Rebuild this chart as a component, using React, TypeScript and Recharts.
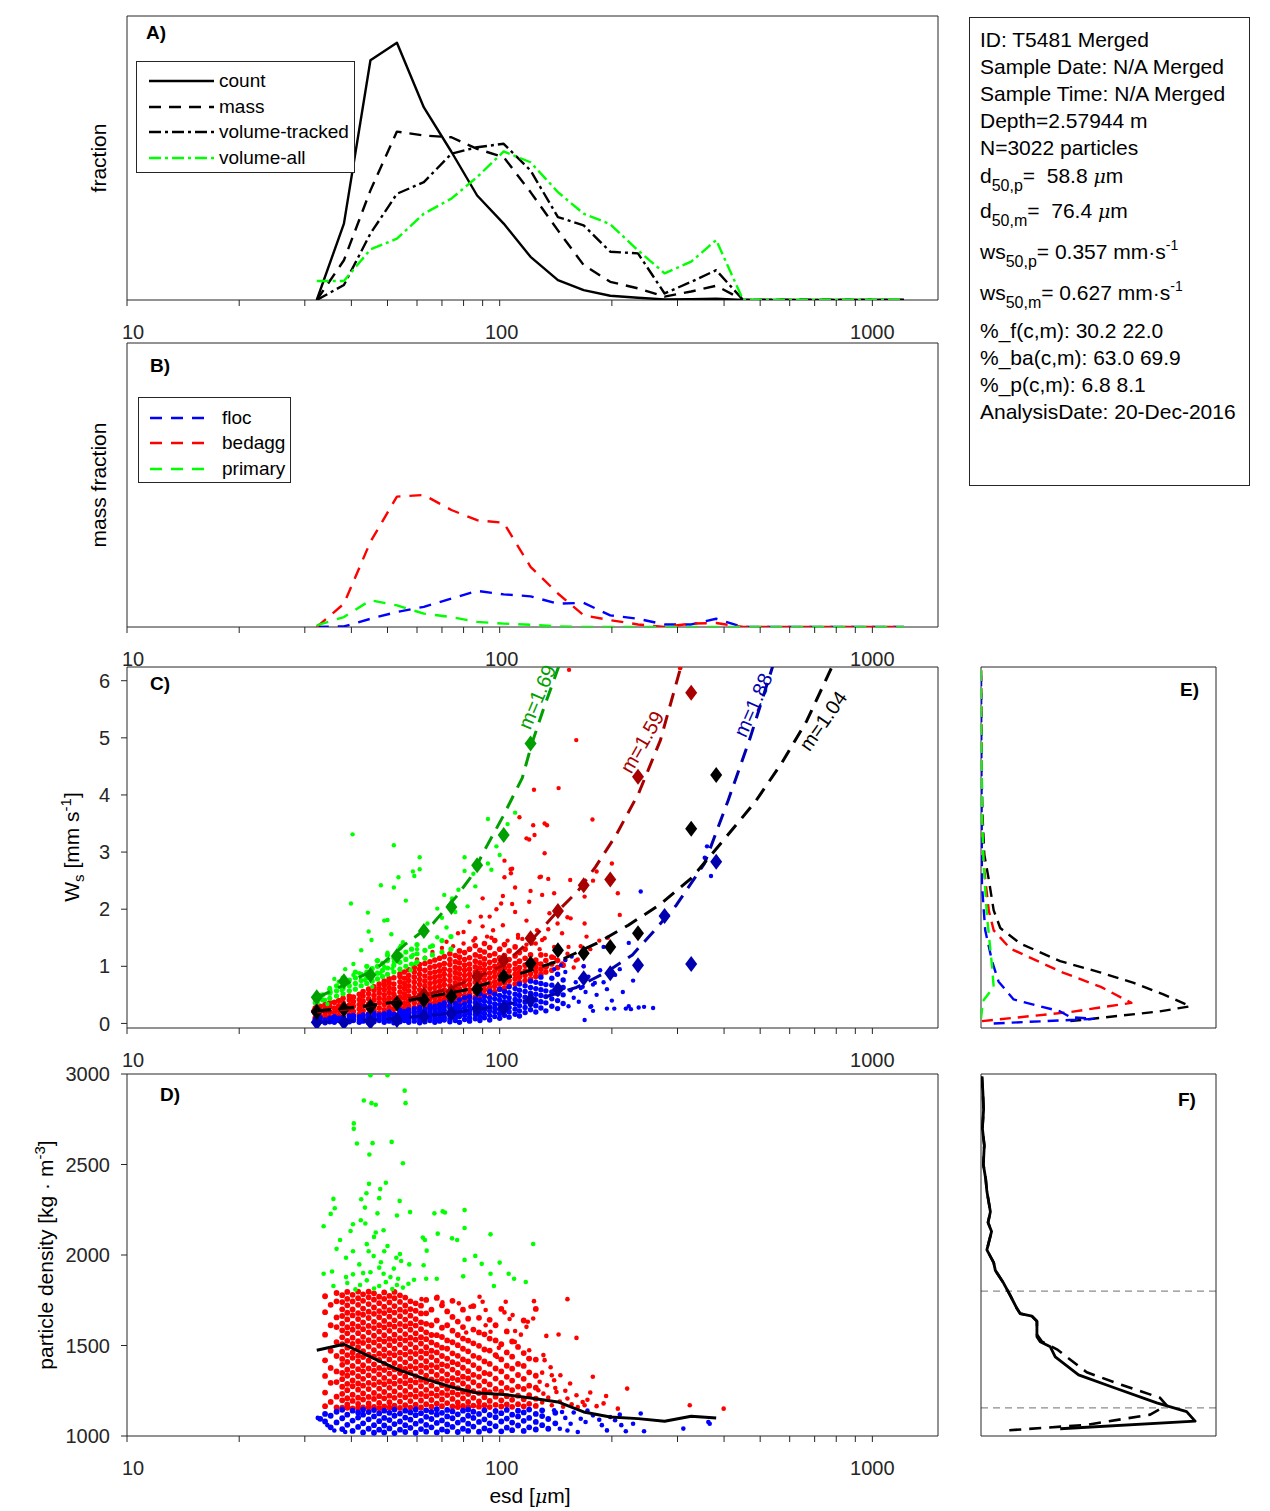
import React from 'react';
import { ComposedChart, Scatter, XAxis, YAxis, ReferenceLine } from 'recharts';

const FONT = '"Liberation Sans", Arial, Helvetica, sans-serif';
const AXIS = '#262626';

// ---------------- shared x bins (esd, µm) ----------------
const BINS = [32.3, 38.2, 45, 53, 62.6, 74.2, 87, 102.5, 121, 143.3, 168, 198, 235, 277, 326.5, 381, 450, 531, 627, 740, 873, 1030, 1216];
const X_TICKS = [10, 20, 30, 40, 50, 60, 70, 80, 90, 100, 200, 300, 400, 500, 600, 700, 800, 900, 1000];
const X_LABELS = [10, 100, 1000];
const WS_TICKS = [0, 1, 2, 3, 4, 5, 6];
const RHO_TICKS = [1000, 1500, 2000, 2500, 3000];

// ---------------- panel A ----------------
const A_COUNT = [0, 0.269, 0.844, 0.906, 0.678, 0.522, 0.368, 0.269, 0.152, 0.07, 0.035, 0.015, 0.008, 0.002, 0.003, 0.005, 0, 0, 0, 0, 0, 0, 0];
const A_MASS = [0, 0.14, 0.386, 0.593, 0.579, 0.573, 0.532, 0.503, 0.38, 0.245, 0.123, 0.064, 0.041, 0.012, 0.03, 0.05, 0, 0, 0, 0, 0, 0, 0];
const A_VOL_TRACKED = [0, 0.053, 0.234, 0.374, 0.415, 0.515, 0.538, 0.55, 0.456, 0.292, 0.263, 0.17, 0.164, 0.023, 0.064, 0.105, 0, 0, 0, 0, 0, 0, 0];
const A_VOL_ALL = [0.067, 0.067, 0.178, 0.216, 0.304, 0.357, 0.433, 0.523, 0.485, 0.38, 0.304, 0.267, 0.175, 0.094, 0.135, 0.211, 0, 0, 0, 0, 0, 0, 0];

// ---------------- panel B ----------------
const B_FLOC = [0, 0.002, 0.029, 0.053, 0.071, 0.1, 0.127, 0.115, 0.108, 0.082, 0.085, 0.041, 0.029, 0.009, 0.009, 0.029, 0, 0, 0, 0, 0, 0, 0];
const B_BEDAGG = [0, 0.082, 0.3, 0.459, 0.465, 0.412, 0.376, 0.367, 0.212, 0.118, 0.041, 0.024, 0.009, 0, 0.012, 0.014, 0, 0, 0, 0, 0, 0, 0];
const B_PRIMARY = [0.006, 0.035, 0.094, 0.076, 0.047, 0.035, 0.018, 0.012, 0.008, 0.002, 0, 0, 0, 0, 0, 0, 0, 0, 0, 0, 0, 0, 0];

// ---------------- panel C : binned means (diamonds) ----------------
const GREEN_DIA_ESD = [32.3, 38.2, 45, 53, 62.6, 74.2, 87, 102.5, 121];
const GREEN_DIA_WS = [0.46, 0.74, 0.85, 1.18, 1.62, 2.04, 2.77, 3.3, 4.9];
const RED_DIA_ESD = [32.3, 38.2, 45, 53, 62.6, 74.2, 87, 102.5, 121, 143.3, 168, 198, 235, 326.5];
const RED_DIA_WS = [0.22, 0.26, 0.29, 0.36, 0.5, 0.55, 0.82, 1.1, 1.49, 1.97, 2.42, 2.52, 4.32, 5.79];
const BLUE_DIA_ESD = [32.3, 38.2, 45, 53, 62.6, 74.2, 87, 102.5, 121, 143.3, 168, 198, 235, 277, 326.5, 381];
const BLUE_DIA_WS = [0.02, 0.02, 0.03, 0.06, 0.12, 0.18, 0.26, 0.27, 0.41, 0.6, 0.79, 0.88, 1.02, 1.88, 1.04, 2.83];
const BLACK_DIA_ESD = [32.3, 38.2, 45, 53, 62.6, 74.2, 87, 102.5, 121, 143.3, 168, 198, 235, 326.5, 381];
const BLACK_DIA_WS = [0.2, 0.25, 0.29, 0.35, 0.41, 0.47, 0.6, 0.82, 1.05, 1.28, 1.23, 1.34, 1.58, 3.41, 4.35];

// ---------------- panel C : fitted curves ----------------
const GREEN_FIT_ESD = [32.4, 39, 46.7, 56.2, 66.2, 76.5, 83.2, 92.1, 102, 115, 122, 131, 144];
const GREEN_FIT_WS = [0.45, 0.7, 0.96, 1.4, 1.75, 2.22, 2.54, 3.09, 3.62, 4.3, 4.9, 5.5, 6.25];
const RED_FIT_ESD = [32.4, 39, 52.6, 72.7, 100.9, 124.2, 143.3, 162.2, 180.8, 205.4, 236, 270, 308];
const RED_FIT_WS = [0.2, 0.25, 0.38, 0.6, 1.0, 1.52, 1.97, 2.32, 2.74, 3.3, 4.03, 4.96, 6.3];
const BLUE_FIT_ESD = [32.4, 49, 68, 95, 135, 160.6, 192.3, 227, 258.8, 297.8, 354.6, 410, 470, 540];
const BLUE_FIT_WS = [0.02, 0.07, 0.15, 0.28, 0.48, 0.63, 0.89, 1.2, 1.61, 2.07, 2.8, 3.9, 5.0, 6.25];
const BLACK_FIT_ESD = [32.4, 41.7, 58, 80.3, 111, 144.8, 181.9, 221.3, 269.2, 327.8, 398.8, 485, 570, 667, 780];
const BLACK_FIT_WS = [0.22, 0.29, 0.41, 0.58, 0.85, 1.1, 1.4, 1.72, 2.08, 2.55, 3.21, 3.88, 4.55, 5.3, 6.25];

// ---------------- panel C : particles (esd, [ws...]) ----------------
const C_RED_CORE: [number, number[]][] = [
  [32, [0.1, 0.18, 0.27]], [33, [0.13, 0.22, 0.3]], [34, [0.09, 0.17, 0.25, 0.33]], [35, [0.12, 0.2, 0.29, 0.36]],
  [36, [0.1, 0.19, 0.27, 0.37]], [37, [0.14, 0.23, 0.31, 0.4]], [38, [0.11, 0.2, 0.28, 0.36, 0.44]],
  [39.5, [0.15, 0.24, 0.32, 0.41, 0.48]], [40.5, [0.12, 0.21, 0.3, 0.38, 0.46]], [42, [0.16, 0.25, 0.33, 0.42, 0.51]],
  [43, [0.13, 0.22, 0.31, 0.39, 0.48, 0.56]], [44.5, [0.17, 0.26, 0.34, 0.43, 0.52, 0.6]],
  [46, [0.14, 0.23, 0.32, 0.41, 0.49, 0.58, 0.64]], [47.5, [0.18, 0.27, 0.36, 0.44, 0.53, 0.61, 0.69]],
  [49, [0.15, 0.24, 0.33, 0.42, 0.5, 0.59, 0.67, 0.74]], [50.5, [0.19, 0.28, 0.37, 0.45, 0.54, 0.63, 0.71, 0.78]],
  [52, [0.16, 0.25, 0.34, 0.43, 0.51, 0.6, 0.69, 0.8]], [54, [0.2, 0.29, 0.38, 0.46, 0.55, 0.64, 0.73, 0.82, 0.87]],
  [55.5, [0.17, 0.26, 0.35, 0.44, 0.52, 0.61, 0.7, 0.79, 0.9]], [57, [0.22, 0.31, 0.39, 0.48, 0.57, 0.66, 0.75, 0.84, 0.94]],
  [59, [0.19, 0.28, 0.36, 0.45, 0.54, 0.63, 0.72, 0.81, 0.9, 0.98]], [61, [0.24, 0.33, 0.41, 0.5, 0.59, 0.68, 0.77, 0.86, 0.95, 1.03]],
  [63, [0.21, 0.3, 0.38, 0.47, 0.56, 0.65, 0.74, 0.83, 0.93, 1.05]], [65, [0.26, 0.35, 0.43, 0.52, 0.61, 0.7, 0.79, 0.88, 0.98, 1.08]],
  [67, [0.28, 0.37, 0.45, 0.54, 0.63, 0.72, 0.81, 0.9, 1.0, 1.11]], [69, [0.3, 0.39, 0.47, 0.56, 0.65, 0.74, 0.83, 0.92, 1.02, 1.14]],
  [71, [0.33, 0.42, 0.5, 0.59, 0.68, 0.77, 0.86, 0.95, 1.05, 1.17]], [73.5, [0.31, 0.4, 0.48, 0.57, 0.66, 0.75, 0.84, 0.93, 1.03, 1.12, 1.22]],
  [76, [0.36, 0.45, 0.53, 0.62, 0.71, 0.8, 0.89, 0.98, 1.08, 1.19]], [78, [0.34, 0.43, 0.51, 0.6, 0.69, 0.78, 0.87, 0.96, 1.06, 1.16, 1.27]],
  [80.5, [0.4, 0.49, 0.57, 0.66, 0.75, 0.84, 0.93, 1.02, 1.12, 1.24]], [83, [0.42, 0.51, 0.59, 0.68, 0.77, 0.86, 0.95, 1.04, 1.15, 1.3]],
  [86, [0.46, 0.55, 0.63, 0.72, 0.81, 0.9, 0.99, 1.09, 1.2, 1.36]], [88.5, [0.44, 0.53, 0.61, 0.7, 0.79, 0.88, 0.97, 1.06, 1.17, 1.28]],
  [91, [0.5, 0.59, 0.67, 0.76, 0.85, 0.94, 1.03, 1.13, 1.25, 1.4]], [94, [0.53, 0.62, 0.7, 0.79, 0.88, 0.97, 1.07, 1.19, 1.33]],
  [97, [0.56, 0.65, 0.73, 0.82, 0.91, 1.0, 1.1, 1.22, 1.45]], [100, [0.6, 0.69, 0.77, 0.86, 0.95, 1.04, 1.15, 1.3]],
  [103, [0.62, 0.71, 0.79, 0.88, 0.97, 1.07, 1.19, 1.38]], [106, [0.66, 0.75, 0.83, 0.92, 1.01, 1.12, 1.27]],
  [110, [0.69, 0.78, 0.86, 0.95, 1.05, 1.18, 1.34]], [113, [0.72, 0.81, 0.89, 0.98, 1.09, 1.24]],
  [117, [0.75, 0.84, 0.92, 1.02, 1.14, 1.3]], [121, [0.78, 0.87, 0.95, 1.06, 1.2]], [125, [0.82, 0.91, 0.99, 1.11]],
  [129, [0.86, 0.95, 1.04, 1.2]], [133, [0.9, 0.99, 1.1]], [138, [0.93, 1.04, 1.16]], [143, [0.98, 1.1]], [148, [1.02]],
];
const C_RED_SPARSE = [
  [153.5, 6.19], [160.5, 4.96], [305, 6.22], [143.9, 4.12], [123.6, 4.09], [132, 3.5], [123, 3.47], [118, 3.24], [177.4, 3.57],
  [132, 2.98], [108, 2.71], [107.2, 2.63], [154.6, 2.51], [182, 2.66], [207.5, 2.28], [140, 2.28], [129, 2.57], [169, 2.22],
  [113, 3.61], [124, 3.3], [134, 3.47], [120, 3.22], [103, 2.85], [107, 2.7], [103, 2.56], [110, 2.38], [121, 2.32],
  [128, 2.56], [135, 2.53], [200, 2.8], [102, 2.23], [90, 2.19], [89, 1.87], [94, 1.87], [98, 2.0], [100.9, 2.1],
  [108, 2.09], [120, 2.13], [130, 2.25], [83, 1.78], [86, 1.49], [80, 1.4], [72, 1.43], [77.3, 1.58], [102, 1.72],
  [112, 1.55], [136, 1.93], [143, 1.75], [155, 1.84], [147, 1.58], [169, 1.75], [171, 1.52], [140, 1.34], [121, 1.55],
  [130, 1.46], [96, 1.63], [92.5, 1.52], [178, 2.5], [152, 1.86], [132, 1.49], [126, 1.63], [122, 1.4], [150, 1.11],
  [153, 1.34], [105, 1.45], [112, 1.5], [118, 1.38], [128, 1.3], [133, 1.2], [140, 1.15], [147, 1.05], [152, 1.22],
  [158, 0.98], [162, 1.12], [126, 1.05], [134, 1.0], [145, 1.25], [168, 1.0], [175, 1.3], [60, 1.12], [66, 1.25],
  [70, 1.32], [75, 1.35], [85, 1.45], [95, 1.5], [115, 1.48], [125, 1.4], [160, 1.1], [165, 1.35], [185, 1.45],
  [63, 1.15], [80, 1.6], [90, 1.7], [118, 1.8], [110, 1.95], [135, 1.65], [195, 1.5], [210, 1.9],
];
const C_BLUE_CORE: [number, number[]][] = [
  [32, [0.02, 0.07]], [33, [0.04, 0.1]], [34, [0.01, 0.06]], [35, [0.03, 0.09]], [36, [0.02, 0.07, 0.12]], [37, [0.05, 0.09]],
  [38, [0.01, 0.06, 0.11]], [39.5, [0.03, 0.08, 0.13]], [40.5, [0.05, 0.1, 0.14]], [42, [0.02, 0.07, 0.12]],
  [43, [0.04, 0.09, 0.15]], [44.5, [0.01, 0.06, 0.11, 0.16]], [46, [0.03, 0.08, 0.13, 0.18]], [47.5, [0.05, 0.1, 0.15]],
  [49, [0.02, 0.07, 0.12, 0.17]], [50.5, [0.04, 0.09, 0.14, 0.2]], [52, [0.01, 0.06, 0.11, 0.16]],
  [54, [0.03, 0.08, 0.13, 0.19, 0.23]], [55.5, [0.05, 0.1, 0.15, 0.21]], [57, [0.02, 0.07, 0.12, 0.18, 0.24]],
  [59, [0.04, 0.09, 0.14, 0.2, 0.26]], [61, [0.01, 0.06, 0.11, 0.17, 0.22, 0.28]], [63, [0.03, 0.08, 0.14, 0.19, 0.25]],
  [65, [0.05, 0.1, 0.16, 0.21, 0.27, 0.31]], [67, [0.02, 0.07, 0.12, 0.18, 0.24, 0.3]], [69, [0.04, 0.09, 0.15, 0.2, 0.26, 0.33]],
  [71, [0.06, 0.11, 0.17, 0.23, 0.29, 0.36]], [73.5, [0.03, 0.08, 0.14, 0.2, 0.27, 0.32, 0.39]],
  [76, [0.05, 0.1, 0.16, 0.22, 0.28, 0.35]], [78, [0.02, 0.12, 0.18, 0.25, 0.31, 0.41]],
  [80.5, [0.07, 0.14, 0.2, 0.27, 0.34, 0.45]], [83, [0.04, 0.1, 0.17, 0.23, 0.3, 0.38, 0.47]],
  [86, [0.08, 0.15, 0.21, 0.28, 0.36, 0.43]], [88.5, [0.05, 0.12, 0.19, 0.26, 0.33, 0.41, 0.52]],
  [91, [0.1, 0.17, 0.24, 0.31, 0.39, 0.47]], [94, [0.06, 0.14, 0.22, 0.29, 0.37, 0.45, 0.56]],
  [97, [0.12, 0.2, 0.27, 0.34, 0.43, 0.51]], [100, [0.09, 0.17, 0.25, 0.33, 0.41, 0.49, 0.6]],
  [103, [0.14, 0.22, 0.3, 0.38, 0.47, 0.56]], [106, [0.11, 0.2, 0.28, 0.37, 0.45, 0.54, 0.64]],
  [110, [0.16, 0.25, 0.34, 0.42, 0.51, 0.61]], [113, [0.13, 0.22, 0.31, 0.4, 0.49, 0.58, 0.69]],
  [117, [0.19, 0.28, 0.37, 0.46, 0.56, 0.66]], [121, [0.24, 0.33, 0.43, 0.53, 0.63, 0.74]],
  [125, [0.2, 0.31, 0.41, 0.51, 0.61, 0.72]], [129, [0.27, 0.38, 0.49, 0.59, 0.7, 0.81]], [133, [0.22, 0.36, 0.47, 0.57, 0.68]],
  [138, [0.3, 0.43, 0.55, 0.67, 0.79]], [143, [0.26, 0.4, 0.52, 0.64, 0.86]], [148, [0.35, 0.5, 0.63, 0.76]],
];
const C_BLUE_SPARSE = [
  [153, 0.3], [155, 0.58], [150, 0.9], [158, 0.45], [160, 0.72], [163, 0.38], [165, 0.62], [168, 1.0], [170, 0.55],
  [173, 0.82], [176, 0.3], [178, 0.68], [182, 0.5], [186, 0.93], [190, 0.72], [194, 0.6], [200, 0.4], [204, 0.85],
  [210, 0.95], [214, 0.55], [222, 0.3], [228, 0.75], [236, 0.28], [244, 0.29], [258, 0.27], [239, 2.31], [169, 0.06],
  [178, 0.22], [203, 0.26], [225, 0.25], [150, 1.11], [156, 1.17], [190, 1.34], [222, 1.41], [180, 0.71], [167, 0.64],
  [369, 2.58], [360, 3.1], [355, 2.9], [140, 0.95], [146, 1.02], [175, 0.29], [194, 0.26], [218, 0.26],
];
const C_GREEN_CORE: [number, number[]][] = [
  [32, [0.36, 0.43]], [33.5, [0.41, 0.5]], [35, [0.44, 0.53, 0.6]], [36.5, [0.48, 0.57, 0.66]], [38, [0.52, 0.61, 0.7, 0.8]],
  [39.5, [0.57, 0.66, 0.76]], [41, [0.6, 0.7, 0.8, 0.9]], [42.5, [0.66, 0.75, 0.86]], [44, [0.7, 0.8, 0.9, 1.0]],
  [45.5, [0.74, 0.85, 0.96]], [47, [0.78, 0.88, 1.0, 1.1]], [48.5, [0.82, 0.93, 1.05]], [50, [0.86, 0.97, 1.1, 1.2]],
  [52, [0.9, 1.02, 1.15]], [54, [0.95, 1.07, 1.2, 1.32]], [56, [1.0, 1.12, 1.25]], [58, [1.04, 1.17, 1.3]],
  [60, [1.08, 1.22, 1.38]], [63, [1.14, 1.28]], [66, [1.2, 1.36]], [70, [1.25, 1.45]], [74, [1.3, 1.52]],
];
const C_GREEN_SPARSE = [
  [40.3, 3.31], [52, 3.12], [61, 2.91], [93, 3.58], [110, 3.69], [105, 3.49], [39.9, 2.1], [48, 2.42], [52, 2.38],
  [53.5, 2.56], [58.5, 2.66], [61, 2.7], [59, 2.58], [56, 2.15], [44.3, 1.94], [49, 1.8], [50, 1.81], [71, 2.25],
  [68, 2.01], [74.5, 2.19], [77.5, 2.34], [80.5, 2.91], [80.5, 2.67], [95, 2.69], [93, 2.8], [44.5, 1.61], [51.2, 1.56],
  [45.3, 1.46], [42.5, 1.28], [50, 1.24], [46.8, 1.1], [40.5, 1.04], [63, 1.58], [68, 1.51], [65, 1.34], [60, 1.3],
  [58.5, 1.2], [54.3, 1.36], [54.6, 1.18], [40.5, 0.85], [42, 0.88], [49, 0.99], [52, 1.08], [34, 0.41], [35.2, 0.55],
  [37.7, 0.58], [38.2, 0.67], [43.5, 0.76], [45.5, 0.64], [47.8, 0.88], [51.5, 0.96], [57.7, 0.93], [59.6, 1.05],
  [34.5, 0.34], [32.5, 0.36], [37, 0.73], [35, 0.62], [33, 0.5], [64, 1.75], [70, 1.85], [82, 2.05], [86, 2.4],
  [98, 3.1], [100, 2.95], [85, 2.62], [76, 1.95], [72, 1.68], [55, 1.42], [38.5, 0.95], [36, 0.78],
];

// ---------------- panel D : particles (esd, [density...]) ----------------
const D_RED_CORE: [number, number[]][] = [
  [34, [1165, 1240, 1332, 1418, 1560, 1684, 1772]],
  [35.2, [1188, 1294, 1376, 1471, 1612, 1725]],
  [36.5, [1158, 1217, 1298, 1357, 1442, 1519, 1602, 1655, 1744, 1790]],
  [37.8, [1156, 1197, 1233, 1272, 1314, 1348, 1393, 1426, 1466, 1507, 1545, 1584, 1621, 1663, 1700, 1740, 1778]],
  [39, [1156, 1174, 1209, 1253, 1288, 1333, 1366, 1409, 1447, 1488, 1526, 1567, 1601, 1644, 1681, 1722, 1758, 1796]],
  [40.3, [1153, 1194, 1228, 1275, 1307, 1349, 1387, 1432, 1462, 1509, 1543, 1587, 1620, 1666, 1699, 1743, 1780]],
  [41.7, [1155, 1178, 1212, 1256, 1290, 1330, 1369, 1412, 1444, 1491, 1524, 1568, 1605, 1646, 1679, 1725, 1761, 1798]],
  [43, [1158, 1201, 1235, 1278, 1316, 1357, 1391, 1436, 1469, 1514, 1548, 1590, 1627, 1670, 1704, 1747, 1783]],
  [44.5, [1157, 1180, 1216, 1259, 1294, 1335, 1373, 1416, 1450, 1494, 1529, 1573, 1608, 1652, 1687, 1729, 1766, 1797]],
  [46, [1161, 1205, 1238, 1283, 1318, 1361, 1396, 1439, 1475, 1517, 1554, 1596, 1631, 1675, 1710, 1753, 1788]],
  [47.5, [1154, 1183, 1220, 1262, 1298, 1341, 1376, 1420, 1455, 1498, 1534, 1577, 1612, 1656, 1690, 1734, 1770]],
  [49, [1164, 1208, 1243, 1286, 1321, 1364, 1400, 1443, 1478, 1522, 1557, 1600, 1636, 1679, 1714, 1758, 1793]],
  [50.6, [1156, 1187, 1223, 1266, 1301, 1345, 1380, 1423, 1458, 1502, 1537, 1581, 1616, 1659, 1695, 1738, 1774]],
  [52.2, [1167, 1211, 1246, 1289, 1325, 1368, 1403, 1446, 1482, 1525, 1560, 1604, 1639, 1682, 1718, 1761, 1796]],
  [54, [1155, 1190, 1226, 1269, 1304, 1348, 1383, 1426, 1461, 1505, 1540, 1584, 1619, 1662, 1698, 1741, 1777]],
  [55.8, [1170, 1214, 1249, 1292, 1328, 1371, 1407, 1450, 1485, 1528, 1563, 1607, 1643, 1686, 1721, 1765]],
  [57.6, [1157, 1193, 1229, 1272, 1307, 1351, 1386, 1429, 1465, 1508, 1543, 1587, 1622, 1665, 1701, 1744]],
  [59.5, [1173, 1217, 1252, 1296, 1331, 1374, 1410, 1453, 1488, 1532, 1567, 1610, 1646, 1692, 1733]],
  [61.5, [1158, 1196, 1232, 1275, 1310, 1354, 1389, 1432, 1468, 1511, 1546, 1590, 1628, 1677, 1720]],
  [63.5, [1176, 1220, 1255, 1299, 1334, 1377, 1413, 1456, 1491, 1535, 1573, 1620, 1678, 1752]],
  [65.6, [1162, 1199, 1235, 1278, 1313, 1357, 1392, 1436, 1471, 1517, 1558, 1612, 1698]],
  [67.8, [1179, 1223, 1258, 1302, 1337, 1380, 1416, 1462, 1503, 1557, 1638, 1763]],
  [70, [1165, 1202, 1238, 1281, 1316, 1360, 1396, 1442, 1488, 1547, 1598, 1722]],
  [72.3, [1182, 1226, 1261, 1305, 1341, 1387, 1428, 1482, 1528, 1612, 1688]],
  [74.7, [1163, 1205, 1241, 1284, 1320, 1367, 1408, 1457, 1518, 1582, 1658, 1747]],
  [77.2, [1160, 1185, 1229, 1264, 1310, 1348, 1397, 1443, 1502, 1558, 1632]],
  [79.7, [1166, 1208, 1244, 1290, 1328, 1377, 1423, 1482, 1538, 1602, 1698]],
  [82.3, [1159, 1188, 1232, 1270, 1318, 1358, 1412, 1468, 1527, 1648]],
  [85, [1168, 1211, 1248, 1297, 1338, 1392, 1443, 1512, 1588, 1718]],
  [88, [1162, 1191, 1237, 1278, 1327, 1373, 1432, 1498, 1572, 1653]],
  [91, [1170, 1214, 1253, 1302, 1348, 1412, 1478, 1562]],
  [94, [1160, 1194, 1242, 1285, 1342, 1398, 1472, 1538, 1642]],
  [97.5, [1172, 1217, 1260, 1317, 1373, 1447, 1528, 1612]],
  [101, [1163, 1197, 1245, 1293, 1357, 1423, 1507, 1702]],
  [104.5, [1174, 1220, 1266, 1327, 1388, 1462, 1578]],
  [108, [1161, 1200, 1254, 1306, 1372, 1438, 1522]],
  [112, [1176, 1223, 1273, 1337, 1398, 1492]],
  [116, [1164, 1203, 1260, 1316, 1387, 1458, 1638]],
  [120, [1178, 1226, 1278, 1352, 1428]],
  [125, [1166, 1206, 1267, 1333, 1422, 1702]],
];
const D_RED_SPARSE = [
  [152, 1756], [160.7, 1542], [143.9, 1561], [133.4, 1553], [123.6, 1745], [123, 1649], [119, 1631], [118, 1603],
  [109.8, 1520], [120, 1474], [119.5, 1428], [108.3, 1668], [106.3, 1646], [103.8, 1742], [103, 1683], [88.3, 1769],
  [90, 1742], [91.7, 1696], [91.7, 1612], [94.5, 1576], [99.5, 1487], [98.4, 1437], [81.3, 1572], [83.5, 1714],
  [77.7, 1733], [70.2, 1738], [68, 1769], [61.7, 1756], [177.8, 1327], [219.8, 1262], [193, 1221], [207.5, 1151],
  [323.6, 1170], [399, 1151], [154.5, 1290], [145.5, 1336], [140, 1308], [138, 1336], [131, 1447], [132, 1419],
  [169, 1170], [167, 1188], [160.7, 1225], [152, 1207], [142, 1243], [131, 1234], [127, 1253], [130, 1185],
  [135, 1212], [138, 1170], [145, 1190], [148, 1162], [156, 1175], [162, 1160], [128, 1300], [134, 1280],
  [141, 1265], [150, 1250], [172, 1200], [182, 1165], [190, 1180], [175, 1240], [130, 1350], [137, 1380],
  [110, 1580], [114, 1560],
];
const D_BLUE_CORE: [number, number[]][] = [
  [33, [1095]], [34, [1080, 1122]], [35.2, [1048, 1112]], [36.5, [1075, 1134]], [37.8, [1038, 1098, 1145]],
  [39, [1062, 1118]], [40.3, [1028, 1085, 1140]], [41.7, [1050, 1102, 1130]], [43, [1020, 1070, 1118, 1146]],
  [44.5, [1040, 1092, 1132]], [46, [1018, 1060, 1108, 1143]], [47.5, [1035, 1082, 1125]], [49, [1020, 1058, 1100, 1140]],
  [50.6, [1042, 1088, 1128]], [52.2, [1016, 1066, 1112, 1146]], [54, [1035, 1080, 1124]], [55.8, [1022, 1060, 1102, 1140]],
  [57.6, [1045, 1090, 1130]], [59.5, [1018, 1068, 1115, 1147]], [61.5, [1038, 1084, 1126]], [63.5, [1024, 1062, 1106, 1142]],
  [65.6, [1048, 1094, 1133]], [67.8, [1020, 1072, 1118, 1148]], [70, [1036, 1086, 1128]], [72.3, [1026, 1064, 1108, 1144]],
  [74.7, [1050, 1098, 1136]], [77.2, [1022, 1074, 1120]], [79.7, [1040, 1090, 1140]], [82.3, [1028, 1068, 1112, 1146]],
  [85, [1052, 1100, 1134]], [88, [1024, 1078, 1122]], [91, [1042, 1092, 1142]], [94, [1030, 1070, 1116]],
  [97.5, [1054, 1104, 1138]], [101, [1026, 1080, 1126]], [104.5, [1046, 1096, 1144]], [108, [1032, 1074, 1118]],
  [112, [1058, 1108, 1140]], [116, [1028, 1084, 1130]], [120, [1048, 1100, 1146]], [125, [1036, 1078, 1122]],
  [130, [1060, 1110, 1142]], [135, [1040, 1094]], [141, [1070, 1128]],
];
const D_BLUE_SPARSE = [
  [311, 1041], [366, 1068], [363, 1077], [244, 1026], [239, 1124], [218, 1026], [228, 1068], [194, 1031], [204, 1087],
  [178, 1114], [170, 1077], [162, 1022], [165, 1095], [155, 1068], [147, 1133], [140, 1142], [150, 1100], [158, 1130],
  [172, 1140], [185, 1090], [188, 1060], [198, 1105], [210, 1118], [145, 1040], [152, 1030], [212, 1060], [32.5, 1100],
  [34.5, 1060], [36, 1030], [38.5, 1022],
];
const D_GREEN = [
  [45, 2993], [50, 2993], [55.6, 2908], [43.2, 2854], [45.3, 2839], [46.5, 2830], [55.9, 2839], [40.6, 2727], [40.6, 2697],
  [41.4, 2616], [45.6, 2618], [44.7, 2555], [51.3, 2625], [55, 2507], [44.6, 2393], [49.5, 2399], [47.8, 2364], [47.5, 2314],
  [43.9, 2341], [42.5, 2308], [35.8, 2310], [53.9, 2299], [43.5, 2262], [36.1, 2258], [57.5, 2237], [53, 2218], [35.2, 2227],
  [47, 2230], [40.4, 2170], [42.4, 2192], [43.6, 2174], [33.7, 2159], [39.8, 2133], [46.5, 2124], [48.8, 2137], [66.8, 2230],
  [70.3, 2241], [71.3, 2235], [80.5, 2248], [80.5, 2149], [68.2, 2118], [94.5, 2114], [123, 2061], [62.2, 2096], [63, 2083],
  [74.5, 2092], [76.9, 2083], [63.7, 2024], [44.5, 2021], [45.9, 1994], [49, 2021], [52.8, 1985], [54.4, 1967], [42, 1948],
  [47.5, 1930], [36.5, 2034], [40.4, 2021], [38.7, 1985], [37.3, 2083], [86, 1995], [80.5, 1973], [89.5, 1951], [100, 1958],
  [57.2, 1948], [62.5, 1943], [33.7, 1896], [35.5, 1909], [38.7, 1878], [40.4, 1893], [43, 1900], [48.8, 1896], [50.9, 1878],
  [53.4, 1869], [56.9, 1841], [58.9, 1863], [63.5, 1869], [67.8, 1869], [79.8, 1882], [94.5, 1896], [105.7, 1896],
  [109.3, 1869], [117.5, 1851], [96.5, 1829], [35.8, 1829], [42.2, 1834], [47.5, 1829], [53, 1834], [44, 1860], [46, 1815],
  [49.5, 1850], [51.5, 1812], [55, 1820], [41, 1810], [39, 1845], [45, 1905], [52, 1925], [48, 1960], [44, 2060], [50, 2050],
  [46, 2100], [54, 2005],
];
const D_MEAN_ESD = [32.3, 38.2, 45, 53, 62.6, 74.2, 87, 102.5, 121, 143.3, 168, 198, 235, 277, 326.5, 381];
const D_MEAN_RHO = [1474, 1507, 1437, 1369, 1317, 1271, 1238, 1229, 1210, 1188, 1133, 1105, 1096, 1081, 1109, 1100];

// ---------------- panel E : ws distributions (fraction, ws) ----------------
const E_TOTAL = [[0.38, 0.04], [0.76, 0.21], [0.89, 0.3], [0.776, 0.51], [0.65, 0.71], [0.51, 0.89], [0.337, 1.09], [0.167, 1.4], [0.082, 1.67], [0.054, 1.98], [0.033, 2.52], [0.014, 2.96], [0.006, 3.68], [0.002, 4.6], [0, 6.2]];
const E_BEDAGG = [[0.004, 0.04], [0.38, 0.2], [0.64, 0.36], [0.51, 0.64], [0.337, 0.91], [0.125, 1.31], [0.054, 1.63], [0.033, 1.98], [0.011, 2.79], [0.004, 3.68], [0, 6.2]];
const E_FLOC = [[0.054, 0.0], [0.38, 0.06], [0.48, 0.08], [0.38, 0.11], [0.337, 0.21], [0.139, 0.42], [0.075, 0.73], [0.047, 1.09], [0.018, 1.63], [0.004, 2.43], [0, 6.2]];
const E_PRIMARY = [[0, 0.08], [0.008, 0.39], [0.054, 0.64], [0.047, 1.0], [0.025, 1.9], [0.011, 2.8], [0.004, 3.7], [0, 6.2]];

// ---------------- panel F : density distributions (fraction, density) ----------------
const F_COUNT = [[0.004, 2986], [0.008, 2900], [0.011, 2803], [0.006, 2700], [0.014, 2606], [0.01, 2500], [0.02, 2420], [0.025, 2352], [0.04, 2239], [0.03, 2180], [0.045, 2130], [0.025, 2028], [0.054, 1958], [0.061, 1915], [0.096, 1845], [0.125, 1775], [0.153, 1704], [0.167, 1676], [0.217, 1662], [0.238, 1634], [0.238, 1549], [0.252, 1521], [0.295, 1493], [0.316, 1437], [0.415, 1338], [0.564, 1268], [0.748, 1183], [0.875, 1135], [0.911, 1082], [0.337, 1040]];
const F_MASS = [[0.004, 2986], [0.008, 2900], [0.011, 2803], [0.006, 2700], [0.014, 2606], [0.01, 2500], [0.02, 2420], [0.025, 2352], [0.04, 2239], [0.03, 2180], [0.045, 2130], [0.025, 2028], [0.054, 1958], [0.061, 1915], [0.096, 1845], [0.125, 1775], [0.153, 1704], [0.167, 1676], [0.217, 1662], [0.238, 1634], [0.238, 1560], [0.26, 1521], [0.323, 1479], [0.45, 1352], [0.6, 1282], [0.762, 1211], [0.79, 1169], [0.72, 1118], [0.45, 1062], [0.103, 1030]];
const F_LIMITS = [1800, 1155];

// ---------------- helpers ----------------
type P = { x: number; y: number };
const zip = (xs: number[], ys: number[]): P[] => ys.map((y, i) => ({ x: xs[i], y }));
const pairs = (arr: number[][]): P[] => arr.map(([x, y]) => ({ x, y }));
const columns = (cols: [number, number[]][]): P[] => cols.flatMap(([x, ys]) => ys.map((y) => ({ x, y })));

const noShape = () => <g />;
const dotShape = (color: string, r = 2.2) => (p: any) => <circle cx={p.cx} cy={p.cy} r={r} fill={color} />;
const diamondShape = (color: string) => (p: any) => (
  <polygon points={`${p.cx},${p.cy - 8} ${p.cx + 6},${p.cy} ${p.cx},${p.cy + 8} ${p.cx - 6},${p.cy}`} fill={color} />
);

const lineS = (key: string, data: P[], stroke: string, width: number, dash?: string) => (
  <Scatter key={key} data={data} xAxisId="b" yAxisId="l" shape={noShape} isAnimationActive={false}
    line={{ stroke, strokeWidth: width, strokeDasharray: dash, strokeLinejoin: 'round' }} />
);
const dotsS = (key: string, data: P[], color: string, r = 2.2) => (
  <Scatter key={key} data={data} xAxisId="b" yAxisId="l" shape={dotShape(color, r)} isAnimationActive={false} />
);
const diaS = (key: string, data: P[], color: string) => (
  <Scatter key={key} data={data} xAxisId="b" yAxisId="l" shape={diamondShape(color)} isAnimationActive={false} />
);

const XTick = (props: any) => {
  const { x, y, payload } = props;
  const v = payload && payload.value;
  if (!X_LABELS.includes(v)) return <g />;
  const dx = v === 10 ? 6 : v === 100 ? 2 : 0;
  return (
    <text x={x + dx} y={y} dy={31} textAnchor="middle" fontSize={20} fontFamily={FONT} fill={AXIS}>{v}</text>
  );
};

const LogPanel = ({ top, plotH, yDomain, yTicks, showY, children }: any) => {
  const AXT = 10, AXB = 50;
  const H = AXT + plotH + AXB;
  return (
    <div style={{ position: 'absolute', left: 0, top: top - AXT, width: 960, height: H }}>
      <ComposedChart width={960} height={H} margin={{ top: 0, right: 12, bottom: 0, left: 0 }}>
        <XAxis xAxisId="b" type="number" dataKey="x" scale="log" domain={[10, 1500]} allowDataOverflow ticks={X_TICKS}
          interval={0} tick={<XTick />} tickSize={6} height={AXB} stroke={AXIS} />
        <XAxis xAxisId="t" orientation="top" type="number" dataKey="x" scale="log" domain={[10, 1500]} allowDataOverflow
          ticks={X_TICKS} interval={0} tick={false} tickSize={6} height={AXT} stroke={AXIS} />
        <YAxis yAxisId="l" type="number" dataKey="y" domain={yDomain} allowDataOverflow ticks={yTicks} interval={0}
          tick={showY ? { fontSize: 20, fill: AXIS, fontFamily: FONT } : false} tickLine={showY} tickSize={6} tickMargin={11}
          width={127} stroke={AXIS} />
        <YAxis yAxisId="r" orientation="right" type="number" dataKey="y" domain={yDomain} allowDataOverflow ticks={yTicks}
          interval={0} tick={false} tickLine={showY} tickSize={6} width={10} stroke={AXIS} />
        {children}
      </ComposedChart>
    </div>
  );
};

const SidePanel = ({ top, plotH, yDomain, yTicks, children }: any) => {
  const H = plotH + 2;
  return (
    <div style={{ position: 'absolute', left: 980, top: top - 1, width: 252, height: H }}>
      <ComposedChart width={252} height={H} margin={{ top: 0, right: 8, bottom: 0, left: 0 }}>
        <XAxis xAxisId="b" type="number" dataKey="x" domain={[0, 1]} allowDataOverflow tick={false} tickLine={false}
          height={1} stroke={AXIS} />
        <XAxis xAxisId="t" orientation="top" type="number" dataKey="x" domain={[0, 1]} allowDataOverflow tick={false}
          tickLine={false} height={1} stroke={AXIS} />
        <YAxis yAxisId="l" type="number" dataKey="y" domain={yDomain} allowDataOverflow tick={false} tickLine={false}
          width={1} stroke={AXIS} />
        <YAxis yAxisId="r" orientation="right" type="number" dataKey="y" domain={yDomain} allowDataOverflow ticks={yTicks}
          interval={0} tick={false} tickSize={6} width={8} stroke={AXIS} />
        {children}
      </ComposedChart>
    </div>
  );
};

const Tag = ({ x, cy, t }: any) => (
  <div style={{ position: 'absolute', left: x, top: cy - 11, fontSize: 19, fontWeight: 'bold', lineHeight: '22px' }}>{t}</div>
);
const Rot = ({ cx, cy, angle, color, size, children }: any) => (
  <div style={{ position: 'absolute', left: cx, top: cy, transform: `translate(-50%,-50%) rotate(${angle}deg)`, color: color || '#000', fontSize: size || 21, whiteSpace: 'nowrap', lineHeight: 1 }}>{children}</div>
);

const LEGEND_A = [
  { label: 'count', color: '#000', dash: undefined, w: 2.4 },
  { label: 'mass', color: '#000', dash: '12 8', w: 2.4 },
  { label: 'volume-tracked', color: '#000', dash: '12 4 3 4', w: 2.4 },
  { label: 'volume-all', color: '#00FF00', dash: '12 4 3 4', w: 2.4 },
];
const LEGEND_B = [
  { label: 'floc', color: '#0000FF', dash: '12 9', w: 2.4 },
  { label: 'bedagg', color: '#FF0000', dash: '12 9', w: 2.4 },
  { label: 'primary', color: '#00FF00', dash: '12 9', w: 2.4 },
];

const LegendBox = ({ left, top, width, height, items, lx, lw, tx, row0, rowStep }: any) => (
  <div style={{ position: 'absolute', left, top, width, height, border: '1.3px solid #262626', boxSizing: 'border-box', background: '#fff' }}>
    {items.map((it: any, i: number) => (
      <div key={i} style={{ position: 'absolute', left: 0, top: row0 + rowStep * i - 12, height: 24, width: '100%' }}>
        <svg style={{ position: 'absolute', left: lx, top: 0 }} width={lw} height={24}>
          <line x1={0} y1={12} x2={lw} y2={12} stroke={it.color} strokeWidth={it.w} strokeDasharray={it.dash} />
        </svg>
        <span style={{ position: 'absolute', left: tx, top: 0, lineHeight: '24px', fontSize: 19 }}>{it.label}</span>
      </div>
    ))}
  </div>
);

const InfoBox = () => {
  const sub = (t: string) => <span style={{ fontSize: 16, position: 'relative', top: 8 }}>{t}</span>;
  const sup = (t: string) => <span style={{ fontSize: 14, position: 'relative', top: -9 }}>{t}</span>;
  const mu = <span style={{ fontStyle: 'italic', fontFamily: '"DejaVu Serif", "Liberation Serif", serif', fontSize: 19 }}>μ</span>;
  const lines: [number, React.ReactNode][] = [
    [39, 'ID: T5481 Merged'],
    [66, 'Sample Date: N/A Merged'],
    [93, 'Sample Time: N/A Merged'],
    [120, 'Depth=2.57944 m'],
    [147, 'N=3022 particles'],
    [175, <>d{sub('50,p')}=  58.8 {mu}m</>],
    [210, <>d{sub('50,m')}=  76.4 {mu}m</>],
    [251, <>ws{sub('50,p')}= 0.357 mm·s{sup('-1')}</>],
    [292, <>ws{sub('50,m')}= 0.627 mm·s{sup('-1')}</>],
    [330, '%_f(c,m): 30.2 22.0'],
    [357, '%_ba(c,m): 63.0 69.9'],
    [384, '%_p(c,m): 6.8 8.1'],
    [411, 'AnalysisDate: 20-Dec-2016'],
  ];
  return (
    <>
      <div style={{ position: 'absolute', left: 969, top: 17, width: 281, height: 469, border: '1.3px solid #262626', boxSizing: 'border-box' }} />
      {lines.map(([cy, c], i) => (
        <div key={i} style={{ position: 'absolute', left: 980, top: cy - 13.5, height: 27, lineHeight: '27px', fontSize: 21, whiteSpace: 'pre' }}>{c}</div>
      ))}
    </>
  );
};

export default function App() {
  const GREEN_DK = '#00A000';
  const RED_DK = '#A80000';
  const BLUE_DK = '#0000B0';
  return (
    <div style={{ position: 'absolute', left: 0, top: 0, width: 1270, height: 1511, background: '#fff', fontFamily: FONT, color: '#000', overflow: 'hidden' }}>
      {/* Panel A */}
      <LogPanel top={16} plotH={284} yDomain={[0, 1]} yTicks={[0, 1]} showY={false}>
        {lineS('a-count', zip(BINS, A_COUNT), '#000', 2.4)}
        {lineS('a-mass', zip(BINS, A_MASS), '#000', 2.4, '12 8')}
        {lineS('a-vt', zip(BINS, A_VOL_TRACKED), '#000', 2.4, '12 4 3 4')}
        {lineS('a-va', zip(BINS, A_VOL_ALL), '#00FF00', 2.4, '12 4 3 4')}
      </LogPanel>

      {/* Panel B */}
      <LogPanel top={343} plotH={284} yDomain={[0, 1]} yTicks={[0, 1]} showY={false}>
        {lineS('b-floc', zip(BINS, B_FLOC), '#0000FF', 2.4, '12 9')}
        {lineS('b-bed', zip(BINS, B_BEDAGG), '#FF0000', 2.4, '12 9')}
        {lineS('b-pri', zip(BINS, B_PRIMARY), '#00FF00', 2.4, '12 9')}
      </LogPanel>

      {/* Panel C */}
      <LogPanel top={667} plotH={361} yDomain={[-0.08, 6.24]} yTicks={WS_TICKS} showY>
        {dotsS('c-red', columns(C_RED_CORE), '#FF0000', 2.8)}
        {dotsS('c-red2', pairs(C_RED_SPARSE), '#FF0000')}
        {dotsS('c-blue', columns(C_BLUE_CORE), '#0000FF', 2.7)}
        {dotsS('c-blue2', pairs(C_BLUE_SPARSE), '#0000FF')}
        {dotsS('c-green', columns(C_GREEN_CORE), '#00FF00', 2.6)}
        {dotsS('c-green2', pairs(C_GREEN_SPARSE), '#00FF00')}
        {diaS('c-dred', zip(RED_DIA_ESD, RED_DIA_WS), RED_DK)}
        {diaS('c-dgreen', zip(GREEN_DIA_ESD, GREEN_DIA_WS), GREEN_DK)}
        {diaS('c-dblue', zip(BLUE_DIA_ESD, BLUE_DIA_WS), BLUE_DK)}
        {diaS('c-dblack', zip(BLACK_DIA_ESD, BLACK_DIA_WS), '#000')}
        {lineS('c-fg', zip(GREEN_FIT_ESD, GREEN_FIT_WS), GREEN_DK, 3, '14 9')}
        {lineS('c-fr', zip(RED_FIT_ESD, RED_FIT_WS), RED_DK, 3, '14 9')}
        {lineS('c-fb', zip(BLUE_FIT_ESD, BLUE_FIT_WS), BLUE_DK, 3, '14 9')}
        {lineS('c-fk', zip(BLACK_FIT_ESD, BLACK_FIT_WS), '#000', 3, '14 9')}
      </LogPanel>

      {/* Panel D */}
      <LogPanel top={1074} plotH={362} yDomain={[1000, 3000]} yTicks={RHO_TICKS} showY>
        {dotsS('d-red', columns(D_RED_CORE), '#FF0000', 2.9)}
        {dotsS('d-red2', pairs(D_RED_SPARSE), '#FF0000', 2.3)}
        {dotsS('d-blue', columns(D_BLUE_CORE), '#0000FF', 2.9)}
        {dotsS('d-blue2', pairs(D_BLUE_SPARSE), '#0000FF', 2.3)}
        {dotsS('d-green', pairs(D_GREEN), '#00FF00', 2.3)}
        {lineS('d-mean', zip(D_MEAN_ESD, D_MEAN_RHO), '#000', 3)}
      </LogPanel>

      {/* Panel E */}
      <SidePanel top={667} plotH={361} yDomain={[-0.08, 6.24]} yTicks={WS_TICKS}>
        {lineS('e-k', pairs(E_TOTAL), '#000', 2.4, '11 7')}
        {lineS('e-r', pairs(E_BEDAGG), '#FF0000', 2.4, '11 7')}
        {lineS('e-b', pairs(E_FLOC), '#0000FF', 2.4, '11 7')}
        {lineS('e-g', pairs(E_PRIMARY), '#00FF00', 2.4, '11 7')}
      </SidePanel>

      {/* Panel F */}
      <SidePanel top={1074} plotH={362} yDomain={[1000, 3000]} yTicks={RHO_TICKS}>
        {F_LIMITS.map((v) => (
          <ReferenceLine key={v} y={v} xAxisId="b" yAxisId="l" stroke="#8c8c8c" strokeWidth={1.2} strokeDasharray="7 5" />
        ))}
        {lineS('f-count', pairs(F_COUNT), '#000', 2.8)}
        {lineS('f-mass', pairs(F_MASS), '#000', 2.6, '12 8')}
      </SidePanel>

      {/* legends */}
      <LegendBox left={136} top={61} width={219} height={112} items={LEGEND_A} lx={12} lw={65} tx={82} row0={19} rowStep={25.6} />
      <LegendBox left={138} top={397} width={153} height={86} items={LEGEND_B} lx={11} lw={62} tx={83} row0={19.7} rowStep={25.7} />

      {/* panel tags */}
      <Tag x={146} cy={33} t="A)" />
      <Tag x={150} cy={366} t="B)" />
      <Tag x={150} cy={684} t="C)" />
      <Tag x={160} cy={1095} t="D)" />
      <Tag x={1180} cy={690} t="E)" />
      <Tag x={1178} cy={1100} t="F)" />

      {/* axis labels */}
      <Rot cx={98} cy={158} angle={-90}>fraction</Rot>
      <Rot cx={98} cy={485} angle={-90}>mass fraction</Rot>
      <Rot cx={72} cy={847} angle={-90}>W<sub style={{ fontSize: 15 }}>s</sub> [mm s<sup style={{ fontSize: 15 }}>-1</sup>]</Rot>
      <Rot cx={44} cy={1255} angle={-90}>particle density [kg · m<sup style={{ fontSize: 15 }}>-3</sup>]</Rot>
      <Rot cx={530} cy={1495} angle={0}>esd [<span style={{ fontStyle: 'italic', fontFamily: '"DejaVu Serif", serif', fontSize: 19 }}>μ</span>m]</Rot>

      {/* slope labels */}
      <Rot cx={537} cy={697} angle={-67} color={GREEN_DK} size={20}>m=1.69</Rot>
      <Rot cx={642} cy={742} angle={-60} color={RED_DK} size={20}>m=1.59</Rot>
      <Rot cx={753} cy={705} angle={-66} color={BLUE_DK} size={20}>m=1.88</Rot>
      <Rot cx={823} cy={721} angle={-55} color="#000" size={20}>m=1.04</Rot>

      <InfoBox />
    </div>
  );
}
